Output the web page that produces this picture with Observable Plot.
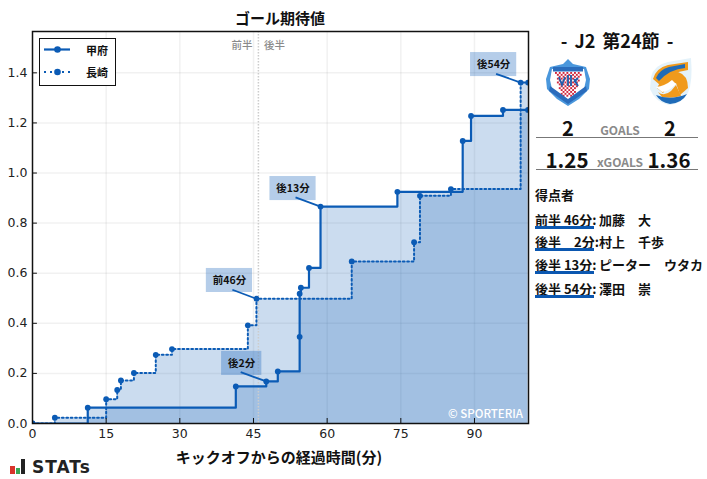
<!DOCTYPE html>
<html lang="ja"><head><meta charset="utf-8">
<script src="https://cdn.jsdelivr.net/npm/d3@7"></script>
<script src="https://cdn.jsdelivr.net/npm/@observablehq/plot@0.6"></script>
<style>
html,body{margin:0;padding:0;background:#fff}
#page{position:relative;width:707px;height:479px;overflow:hidden;font-family:"Noto Sans CJK JP","Noto Sans",sans-serif;color:#111}
#page svg{display:block}
.abs{position:absolute;white-space:pre;line-height:1}
.c{transform:translate(-50%,-50%)}
.l{transform:translateY(-50%)}
.rule{position:absolute;left:536px;width:162px;height:1px;background:#777}
.bar{position:absolute;left:535px;width:59px;height:3px;background:#0b57b0}
</style></head><body><div id="page"></div>
<script>
const xTicks=[0,15,30,45,60,75,90];
const yTicks=[0,0.2,0.4,0.6,0.8,1.0,1.2,1.4];
const kofuMinutes=[0,11.25,41.4,47.6,49.95,54.4,54.4,54.65,56.3,58.65,74.3,87.6,89.3,95.8,100.9];
const kofuXg=[0,0.063,0.148,0.168,0.208,0.346,0.518,0.542,0.621,0.866,0.925,1.128,1.228,1.252,1.252];
const nagasakiMinutes=[0,4.55,15,17.25,18,20.65,25.1,28.4,43.85,45.6,65,77.7,78.9,85.2,99.4,100.9];
const nagasakiXg=[0,0.023,0.097,0.134,0.172,0.202,0.274,0.297,0.392,0.498,0.647,0.724,0.909,0.936,1.361,1.361];
const calloutLabels=["前46分","後2分","後13分","後54分"];
const calloutMinutes=[45.6,47.6,58.65,99.4];
const calloutValues=[0.498,0.168,0.866,1.361];
const calloutBoxMinutes=[40.1,42.6,53.05,93.9];
const calloutBoxValues=[0.571,0.24,0.938,1.433];
const calloutBoxHalf=[4.7,4.1,4.7,4.7];
const calloutTailMinutes=[40.7,42.4,53.56,94.4];
const calloutTailValues=[0.534,0.205,0.903,1.396];
const halfTime=46;
const scorers=[["前半 46分:","加藤　大"],["後半　2分:","村上　千歩"],["後半 13分:","ピーター　ウタカ"],["後半 54分:","澤田　崇"]];

const blue="#0b5bb5";
const toRows=(m,v)=>m.map((x,i)=>({x,y:v[i]}));
const kofu=toRows(kofuMinutes,kofuXg), nagasaki=toRows(nagasakiMinutes,nagasakiXg);
const kofuArea=kofu.filter((d,i)=>i===kofu.length-1||kofu[i+1].x!==d.x);
const callouts=calloutLabels.map((label,i)=>({label,x:calloutMinutes[i],y:calloutValues[i],bx:calloutBoxMinutes[i],by:calloutBoxValues[i],h:calloutBoxHalf[i],tx:calloutTailMinutes[i],ty:calloutTailValues[i]}));
const cjk='"Noto Sans CJK JP"';

const chart=Plot.plot({
  width:707,height:479,marginLeft:32,marginRight:179,marginTop:31,marginBottom:56,
  style:{background:"transparent",fontFamily:"DejaVu Sans",fontSize:"12.5px",color:"#222"},
  x:{type:"linear",domain:[0,101],range:[32,528]},
  y:{type:"linear",domain:[0,1.565],range:[423,31]},
  marks:[
    Plot.ruleX(xTicks.slice(1),{stroke:"#777",strokeOpacity:0.1,strokeWidth:1.5}),
    Plot.ruleY(yTicks.slice(1),{stroke:"#777",strokeOpacity:0.1,strokeWidth:1.5}),
    Plot.areaY(nagasaki,{x:"x",y:"y",curve:"step-after",fill:blue,fillOpacity:0.21}),
    Plot.areaY(kofuArea,{x:"x",y:"y",curve:"step-after",fill:blue,fillOpacity:0.21}),
    Plot.ruleX([halfTime],{stroke:"#ccc",strokeWidth:1.5,strokeDasharray:"1.5,1.5"}),
    Plot.line(nagasaki,{x:"x",y:"y",curve:"step-after",stroke:blue,strokeWidth:2,strokeDasharray:"1.7,2.7",clip:true}),
    Plot.line(kofu,{x:"x",y:"y",curve:"step-after",stroke:blue,strokeWidth:2.2,clip:true}),
    Plot.dot(nagasaki,{x:"x",y:"y",r:2.9,fill:blue,clip:true}),
    Plot.dot(kofu,{x:"x",y:"y",r:2.9,fill:blue,clip:true}),
    Plot.rect(callouts,{x1:d=>d.bx-d.h,x2:d=>d.bx+d.h,y1:d=>d.by-0.048,y2:d=>d.by+0.048,fill:blue,fillOpacity:0.3}),
    Plot.link(callouts,{x1:"tx",y1:"ty",x2:"x",y2:"y",stroke:blue,strokeWidth:1.8}),
    Plot.text(callouts,{x:"bx",y:"by",text:"label",fontFamily:cjk,fontWeight:700,fontSize:10.5,fill:"#111"}),
    Plot.frame({stroke:"#111",strokeWidth:1.5}),
    Plot.axisX(xTicks,{anchor:"bottom",tickSize:0,tickPadding:6,fontSize:12.5,label:null}),
    Plot.axisY(yTicks,{anchor:"left",tickSize:0,tickPadding:5,tickFormat:d=>d.toFixed(1),fontSize:12.5,label:null}),
    Plot.ruleX(xTicks.slice(1),{y1:0,y2:0.02,strokeWidth:1,stroke:"#111"}),
    Plot.ruleY(yTicks.slice(1),{x1:0,x2:1,strokeWidth:1,stroke:"#111"})
  ]
});
const page=document.getElementById("page");
page.appendChild(chart);

function addText(txt,x,y,size,weight,color,anchor,extra){
  const e=document.createElement("div");
  e.className="abs "+(anchor||"c");
  e.textContent=txt;
  e.style.cssText=`left:${x}px;top:${y}px;font-size:${size}px;font-weight:${weight};color:${color};${extra||""}`;
  page.appendChild(e);return e;
}
addText("ゴール期待値",280,17,15,700,"#111");
addText("キックオフからの経過時間(分)",279,456,15,700,"#111");
addText("前半",242,45,10.5,500,"#8a8a8a");
addText("後半",274.5,45,10.5,500,"#8a8a8a");
addText("© SPORTERIA",485.5,413.5,11.5,500,"#fff");

// legend
const leg=document.createElement("div");
leg.className="abs";leg.style.cssText="left:39px;top:38px;width:75px;height:46px;border:1.5px solid #111;background:#fff;box-sizing:content-box";
leg.innerHTML=`<svg width="75" height="46"><line x1="4" x2="30" y1="10.5" y2="10.5" stroke="${blue}" stroke-width="2.2"/><circle cx="17.5" cy="10.5" r="3.3" fill="${blue}"/><line x1="4" x2="30" y1="33" y2="33" stroke="${blue}" stroke-width="2" stroke-dasharray="2,4"/><circle cx="17.5" cy="33" r="3.3" fill="${blue}"/></svg>`;
page.appendChild(leg);
addText("甲府",97,49.5,11,700,"#111");
addText("長崎",97,72,11,700,"#111");

// side panel
addText("- J2 第24節 -",617,40,18,700,"#111",null,"word-spacing:3px");
const crests=document.createElement("div");
crests.className="abs";crests.style.cssText="left:530px;top:55px;width:177px;height:55px";
let check="";
for(let r=0;r<13;r++)for(let c=0;c<14;c++)if((r+c)%2==0&&Math.abs(c-6.5)<=7-r*0.3)check+=`<rect x="${25+c*1.9}" y="${17+r*1.9}" width="1.9" height="1.9" fill="#d0283f"/>`;
crests.innerHTML=`<svg width="177" height="55">
<path d="M38 4 L43 9 L56 12 L60 24 L59 34 L49 44 L38 51 L27 44 L17 34 L16 24 L20 12 L33 9 Z" fill="#4a97dc"/>
<path d="M22 14 L54 14 L56 25 L54 34 L38 45 L22 34 L20 25 Z" fill="#fff"/>
<rect x="23" y="12" width="30" height="4.5" fill="#2a6cbc"/>
<g>${check}</g>
<path d="M20 31 L38 44 L56 31 L57 36 L38 49 L19 36Z" fill="#2a6cbc"/>
<path d="M29 22 L32 30 L35 22 M38 20 V31 M41 20 V31 M44 24 L48 31 M48 23 L44 27" fill="none" stroke="#1e5fae" stroke-width="1.8"/>
<path d="M121 22 Q124 10 138 7 L161 3 Q163 26 158 38 Q150 50 139 50 Q125 47 120 34 Z" fill="#e4f2fa"/>
<path d="M123 24 Q126 13 138 10 L158 7 L158 15 Q140 17 130 30 Z" fill="#f09a1c"/>
<path d="M126 23 Q129 15 139 12 L155 9 L155 13 Q140 14 129 26 Z" fill="#1f6bb8"/>
<path d="M127 33 Q134 18 148 17 Q158 20 158 33 L150 40 L146 28 Q138 30 133 38Z" fill="#f09a1c"/>
<path d="M126 32 Q135 31 142 25 L146 29 Q138 37 132 37Z" fill="#fff"/>
<path d="M128 37 Q134 42 141 36 L146 30 L151 41 Q141 44 132 42Z" fill="#f09a1c"/>
<path d="M126 40 Q140 46 157 39 Q152 48 140 49 Q130 47 126 40Z" fill="#1f6bb8"/>
</svg>`;
page.appendChild(crests);
addText("2",568,127.5,20,700,"#111");
addText("GOALS",620,129.5,12,700,"#8a8a8a");
addText("2",670,127.5,20,700,"#111");
const r1=document.createElement("div");r1.className="rule";r1.style.top="137px";page.appendChild(r1);
addText("1.25",567,159,20.5,700,"#111");
addText("xGOALS",620,161.5,12,700,"#8a8a8a");
addText("1.36",669,159,20.5,700,"#111");
const r2=document.createElement("div");r2.className="rule";r2.style.top="169px";page.appendChild(r2);
addText("得点者",535,193.5,13,700,"#111","l");
const rowY=[218.5,241,264,287.5];
scorers.forEach(([t,n],i)=>{
  addText(t,535,rowY[i],13,700,"#111","l");
  addText(n,599,rowY[i],13,700,"#111","l");
  const b=document.createElement("div");b.className="bar";b.style.top=(rowY[i]+7)+"px";page.appendChild(b);
});

// STATS logo
const logo=document.createElement("div");
logo.className="abs";logo.style.cssText="left:10px;top:459px";
logo.innerHTML=`<svg width="16" height="15"><rect x="0" y="7" width="5" height="8" fill="#d9342b"/><rect x="6" y="9" width="4" height="6" fill="#3aa655"/><rect x="11" y="0" width="4" height="15" fill="#222"/></svg>`;
page.appendChild(logo);
addText("STATs",32,467,17,700,"#222","l",'font-family:"DejaVu Sans";letter-spacing:1px');
</script></body></html>
